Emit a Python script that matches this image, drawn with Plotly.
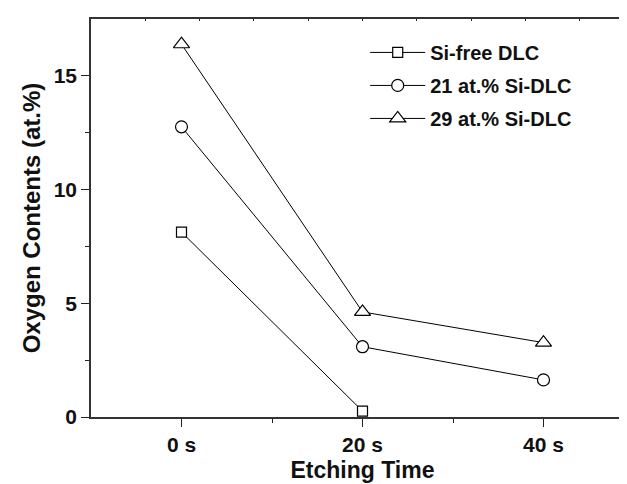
import plotly.graph_objects as go

etch_time = [0, 20, 40]
tick_labels = ["0 s", "20 s", "40 s"]
y_ticks = [0, 5, 10, 15]
si_free = [8.13, 0.26]
si21 = [12.76, 3.09, 1.63]
si29 = [16.39, 4.62, 3.27]
names = ["Si-free DLC", "21 at.% Si-DLC", "29 at.% Si-DLC"]

FONT = "Liberation Sans, Arial, Helvetica, sans-serif"

fig = go.Figure()
series = [
    (names[0], etch_time[:2], si_free, "square", 10),
    (names[1], etch_time, si21, "circle", 12),
    (names[2], etch_time, si29, "triangle-up", 14),
]
for name, x, y, sym, sz in series:
    fig.add_trace(go.Scatter(
        x=x, y=y, name=name, mode="lines+markers", legendgroup=name,
        line=dict(color="black", width=1),
        marker=dict(symbol=sym, size=sz, color="white", line=dict(width=1.2, color="black")),
    ))

# helper trace so the mirrored (top/right) axes are drawn
fig.add_trace(go.Scatter(x=[0], y=[0], xaxis="x2", yaxis="y2", mode="markers",
                         marker=dict(opacity=0), showlegend=False, hoverinfo="skip"))

fig.update_layout(
    width=627, height=484,
    margin=dict(l=83, r=1, t=11, b=75),
    paper_bgcolor="white", plot_bgcolor="white",
    font=dict(family=FONT, color="#111111", size=20),
    showlegend=True,
    legend=dict(x=0.505, y=0.965, xanchor="left", yanchor="top",
                bgcolor="rgba(0,0,0,0)", itemwidth=55, traceorder="grouped",
                font=dict(size=20, family=FONT, weight="bold"),
                tracegroupgap=4),
    xaxis=dict(
        range=[-10, 50], tickvals=etch_time, ticktext=tick_labels,
        ticks="outside", ticklen=8, tickwidth=1, tickcolor="#222",
        showline=True, linecolor="#333", linewidth=1.5,
        showgrid=False, zeroline=False,
        minor=dict(tickvals=[10, 30], ticks="outside", ticklen=4, tickcolor="#222"),
        title=dict(text="Etching Time", font=dict(size=23, family=FONT, weight="bold"), standoff=7),
        tickfont=dict(size=21, family=FONT, weight="bold"),
    ),
    yaxis=dict(
        range=[0, 17.5], tickvals=y_ticks,
        ticks="outside", ticklen=8, tickwidth=1, tickcolor="#222",
        showline=True, linecolor="#333", linewidth=1.5,
        showgrid=False, zeroline=False,
        minor=dict(tickvals=[2.5, 7.5, 12.5], ticks="outside", ticklen=4, tickcolor="#222"),
        title=dict(text="Oxygen Contents (at.%)", font=dict(size=24, family=FONT, weight="bold"), standoff=6),
        tickfont=dict(size=21, family=FONT, weight="bold"),
    ),
    xaxis2=dict(
        overlaying="x", side="top", range=[-10, 50],
        tickvals=[-4, 2, 8, 14, 20, 26, 32, 38, 44], ticks="inside", ticklen=2,
        tickcolor="#222", showticklabels=False, showline=True, linecolor="#333",
        linewidth=1.5, showgrid=False, zeroline=False,
    ),
    yaxis2=dict(
        overlaying="y", side="right", range=[0, 17.5],
        tickvals=[2.5, 5, 7.5, 10, 12.5, 15], ticks="inside", ticklen=5,
        tickcolor="#222", showticklabels=False, showline=True, linecolor="#333",
        linewidth=1.5, showgrid=False, zeroline=False,
    ),
)

fig.write_html("out.html")
